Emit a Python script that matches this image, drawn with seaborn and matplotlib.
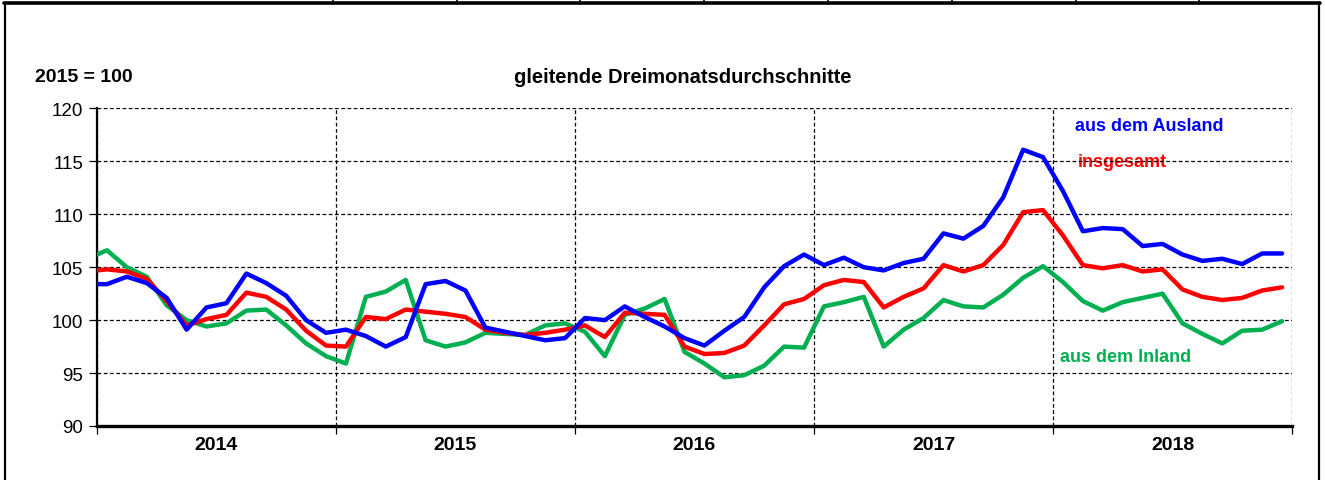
import numpy as np
import pandas as pd
import matplotlib.pyplot as plt
import seaborn as sns
from matplotlib.lines import Line2D
from matplotlib.ticker import FixedLocator, NullFormatter

# month index: -1 = Dec 2013 (only partly visible), 0 = Jan 2014 ... 59 = Dec 2018
years = ['2014', '2015', '2016', '2017', '2018']

ausland = [103.4,
           103.4, 104.1, 103.5, 102.1, 99.1, 101.2, 101.6, 104.4, 103.5, 102.3, 100.0, 98.8,
           99.1, 98.5, 97.5, 98.4, 103.4, 103.7, 102.8, 99.3, 98.9, 98.5, 98.1, 98.3,
           100.2, 100.0, 101.3, 100.3, 99.4, 98.3, 97.6, 99.0, 100.3, 103.1, 105.1, 106.2,
           105.2, 105.9, 105.0, 104.7, 105.4, 105.8, 108.2, 107.7, 108.9, 111.6, 116.1, 115.4,
           112.2, 108.4, 108.7, 108.6, 107.0, 107.2, 106.2, 105.6, 105.8, 105.3, 106.3, 106.3]

insgesamt = [104.6,
             104.8, 104.6, 103.9, 101.8, 99.5, 100.1, 100.5, 102.6, 102.2, 101.0, 99.0, 97.6,
             97.5, 100.3, 100.1, 101.0, 100.8, 100.6, 100.3, 99.1, 98.8, 98.6, 98.8, 99.1,
             99.5, 98.4, 100.7, 100.6, 100.5, 97.5, 96.8, 96.9, 97.6, 99.5, 101.5, 102.0,
             103.3, 103.8, 103.6, 101.2, 102.2, 103.0, 105.2, 104.6, 105.2, 107.1, 110.2, 110.4,
             108.0, 105.2, 104.9, 105.2, 104.6, 104.8, 102.9, 102.2, 101.9, 102.1, 102.8, 103.1]

inland = [105.8,
          106.6, 105.0, 104.1, 101.4, 100.0, 99.4, 99.7, 100.9, 101.0, 99.5, 97.8, 96.6,
          95.9, 102.2, 102.7, 103.8, 98.1, 97.5, 97.9, 98.8, 98.7, 98.6, 99.5, 99.7,
          98.9, 96.6, 100.5, 101.1, 102.0, 97.0, 95.9, 94.6, 94.8, 95.7, 97.5, 97.4,
          101.3, 101.7, 102.2, 97.5, 99.1, 100.2, 101.9, 101.3, 101.2, 102.4, 104.0, 105.1,
          103.6, 101.8, 100.9, 101.7, 102.1, 102.5, 99.7, 98.7, 97.8, 99.0, 99.1, 99.9]

series = {'aus dem Inland': inland, 'insgesamt': insgesamt, 'aus dem Ausland': ausland}
colors = {'aus dem Inland': '#00B050', 'insgesamt': '#FF0000', 'aus dem Ausland': '#0000FF'}

month = np.arange(-1, 60) + 0.5
df = pd.concat([pd.DataFrame({'month': month, 'index': v, 'series': k})
                for k, v in series.items()], ignore_index=True)

sns.set_style("ticks")
plt.rcParams['font.family'] = ['Liberation Sans', 'DejaVu Sans']
plt.rcParams['text.color'] = 'black'
plt.rcParams['xtick.color'] = 'black'
plt.rcParams['ytick.color'] = 'black'

fig = plt.figure(figsize=(13.25, 4.81), dpi=100)
ax = fig.add_axes([0.0732, 0.1123, 0.9019, 0.6601])

sns.lineplot(data=df, x='month', y='index', hue='series',
             hue_order=list(series.keys()), palette=colors,
             linewidth=3.2, legend=False, ax=ax, zorder=3)

ax.set_xlim(0, 60)
ax.set_ylim(90, 120)
ax.set_xlabel('')
ax.set_ylabel('')

# grid
ax.set_yticks(np.arange(90, 121, 5))
ax.xaxis.set_major_locator(FixedLocator(np.arange(0, 61, 12)))
ax.xaxis.set_major_formatter(NullFormatter())
ax.xaxis.set_minor_locator(FixedLocator(np.arange(6, 60, 12)))
ax.set_xticklabels(years, minor=True)
ax.grid(True, which='major', color='black', linestyle=(0, (3, 2)), linewidth=0.9)
ax.set_axisbelow(True)

ax.tick_params(axis='x', which='major', length=6, width=0.9, direction='out')
ax.tick_params(axis='x', which='minor', length=0, pad=7, labelsize=14)
ax.tick_params(axis='y', length=6, width=0.9, direction='out', labelsize=13.5, pad=4)
for lbl in ax.get_xticklabels(minor=True):
    lbl.set_fontweight('bold')

for s in ['top', 'right']:
    ax.spines[s].set_visible(False)
ax.spines['left'].set_linewidth(1.6)
ax.spines['bottom'].set_linewidth(2.4)
ax.spines['left'].set_color('black')
ax.spines['bottom'].set_color('black')

# series labels
ax.text(0.818, 0.945, 'aus dem Ausland', color=colors['aus dem Ausland'], transform=ax.transAxes,
        fontsize=13, fontweight='bold', va='center', ha='left')
ax.text(0.821, 0.833, 'insgesamt', color=colors['insgesamt'], transform=ax.transAxes,
        fontsize=13, fontweight='bold', va='center', ha='left', zorder=0.3)
ax.text(0.806, 0.22, 'aus dem Inland', color=colors['aus dem Inland'], transform=ax.transAxes,
        fontsize=13, fontweight='bold', va='center', ha='left')

fig.text(0.0264, 0.838, '2015 = 100', fontsize=14, fontweight='bold', va='center', ha='left')
fig.text(0.5155, 0.838, 'gleitende Dreimonatsdurchschnitte', fontsize=14.5, fontweight='bold',
         va='center', ha='center')

# outer frame (table cell)
fig.add_artist(Line2D([0.004, 0.004], [0, 0.992], color='black', lw=1.6, transform=fig.transFigure))
fig.add_artist(Line2D([0.9955, 0.9955], [0, 0.992], color='black', lw=1.6, transform=fig.transFigure))
fig.add_artist(Line2D([0.003, 0.9965], [0.9917, 0.9917], color='black', lw=2.6, transform=fig.transFigure))
for px in [333, 457, 580, 704, 828, 952, 1076, 1199]:
    fig.add_artist(Line2D([px / 1325, px / 1325], [0.99, 1.0], color='black', lw=1.2,
                          transform=fig.transFigure))

fig.savefig('out.png', dpi=100)
